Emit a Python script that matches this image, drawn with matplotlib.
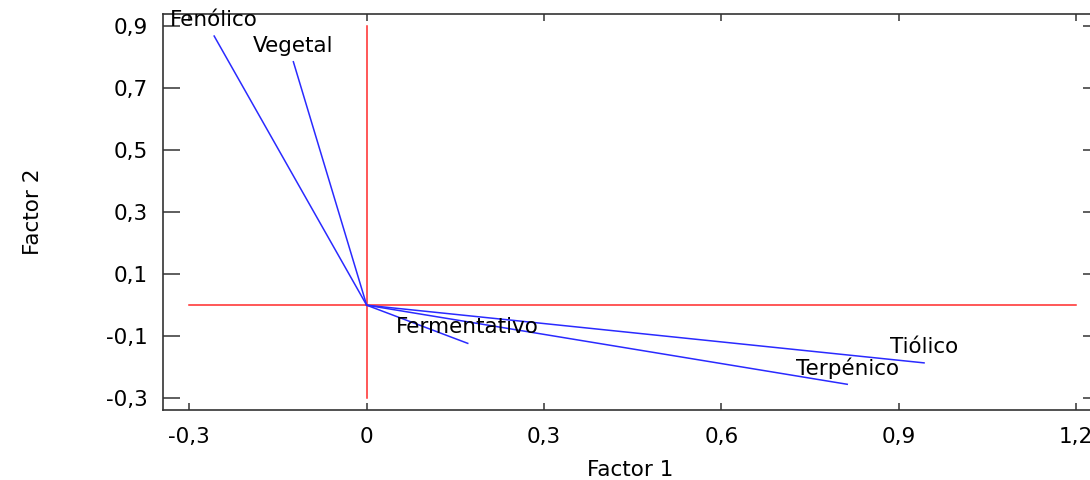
import matplotlib
matplotlib.use("Agg")
import matplotlib.pyplot as plt

# loadings (Factor 1, Factor 2)
names = ["Fenólico", "Vegetal", "Fermentativo", "Tiólico", "Terpénico"]
factor1 = [-0.258, -0.124, 0.171, 0.943, 0.813]
factor2 = [0.868, 0.785, -0.123, -0.186, -0.255]

# reference cross lines
hline_x = [-0.3, 1.2]
vline_y = [-0.3, 0.9]

xticks = [-0.3, 0, 0.3, 0.6, 0.9, 1.2]
xlabels = ["-0,3", "0", "0,3", "0,6", "0,9", "1,2"]
yticks = [-0.3, -0.1, 0.1, 0.3, 0.5, 0.7, 0.9]
ylabels = ["-0,3", "-0,1", "0,1", "0,3", "0,5", "0,7", "0,9"]

plt.rcParams["font.family"] = "DejaVu Sans"
fs = 15.5
blue = "#2a2aff"
red = "#ff2a2a"
dark = "#333333"

fig = plt.figure(figsize=(10.9, 4.8), dpi=100)
ax = fig.add_axes([0.1493, 0.1458, 0.8599, 0.825])

ax.plot(hline_x, [0, 0], color=red, lw=1.1)
ax.plot([0, 0], vline_y, color=red, lw=1.1)

for n, x, y in zip(names, factor1, factor2):
    ax.plot([0, x], [0, y], color=blue, lw=1.1)
    ax.annotate(n, (x, y), xytext=(0, 11.5), textcoords="offset points",
                ha="center", va="center", fontsize=fs, color="black")

ax.set_xlim(-0.345, 1.2407)
ax.set_ylim(-0.338, 0.939)

ax.set_xticks(xticks)
ax.set_xticklabels(xlabels)
ax.set_yticks(yticks)
ax.set_yticklabels(ylabels)

ax.tick_params(axis="x", direction="in", length=5, width=1.1, color=dark,
               top=True, pad=12, labelsize=fs)
ax.tick_params(axis="y", direction="in", length=12.2, width=1.1, color=dark,
               right=True, pad=10.8, labelsize=fs)

for s in ax.spines.values():
    s.set_color(dark)
    s.set_linewidth(1.2)

fig.text(630 / 1090, 1 - 470 / 480, "Factor 1", ha="center", va="center", fontsize=fs)
fig.text(33 / 1090, 1 - 212 / 480, "Factor 2", ha="center", va="center",
         fontsize=fs, rotation=90)

fig.savefig("out.png", dpi=100)
